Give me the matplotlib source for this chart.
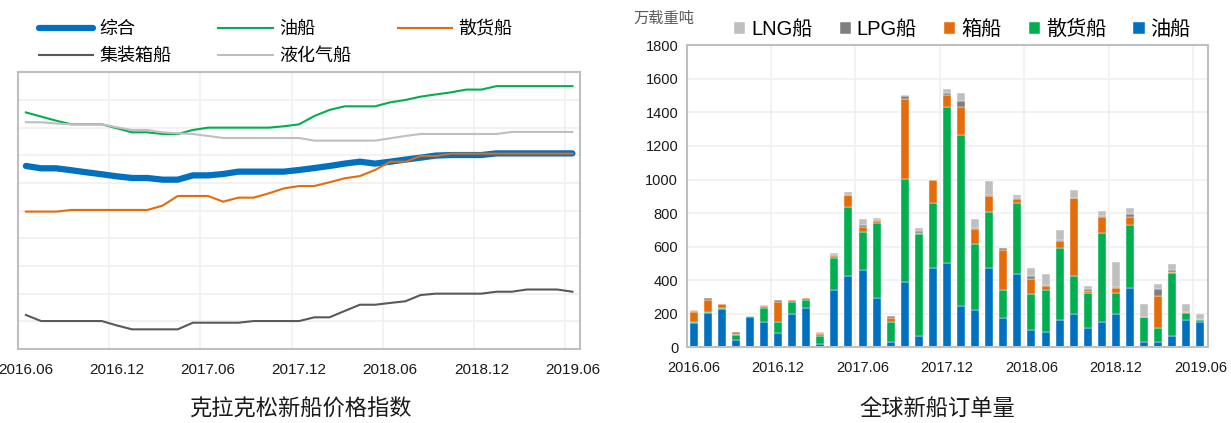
import numpy as np
import matplotlib.pyplot as plt

plt.rcParams['font.family'] = ['Liberation Sans', 'Noto Sans CJK SC']

# ---- data: monthly, 2016.06 - 2019.06 ----
tick_labels = ['2016.06', '2016.12', '2017.06', '2017.12', '2018.06', '2018.12', '2019.06']

# Clarkson newbuilding price indices (left chart)
idx_composite = [132.3, 130.6, 130.6, 129.2, 127.7, 126.3, 124.8, 123.6, 123.6, 122.4,
                 122.4, 125.5, 125.5, 126.5, 128.2, 128.2, 128.2, 128.2, 129.4, 130.8,
                 132.3, 134.0, 135.4, 134.0, 135.4, 136.9, 138.3, 139.8, 140.2, 140.2,
                 140.2, 141.4, 141.4, 141.4, 141.4, 141.4, 141.4]
idx_tanker = [171.0, 168.0, 165.0, 162.4, 162.4, 162.4, 159.5, 156.6, 156.6, 155.4,
              155.4, 158.3, 160.0, 160.0, 160.0, 160.0, 160.0, 161.0, 162.4, 168.4,
              172.8, 175.4, 175.4, 175.4, 178.3, 180.0, 182.4, 184.0, 185.5, 187.5,
              187.5, 190.0, 190.0, 190.0, 190.0, 190.0, 190.0]
idx_bulk = [99.3, 99.3, 99.3, 100.5, 100.5, 100.5, 100.5, 100.5, 100.5, 103.6,
            110.6, 110.6, 110.6, 106.5, 109.4, 109.4, 112.5, 116.1, 117.8, 117.8,
            120.5, 123.4, 125.0, 129.4, 135.4, 135.4, 139.5, 139.5, 141.2, 141.2,
            141.2, 141.2, 141.2, 141.2, 141.2, 141.2, 141.2]
idx_container = [24.6, 20.2, 20.2, 20.2, 20.2, 20.2, 17.0, 14.2, 14.2, 14.2,
                 14.2, 19.0, 19.0, 19.0, 19.0, 20.2, 20.2, 20.2, 20.2, 22.9,
                 22.9, 27.5, 32.0, 32.0, 33.3, 34.5, 39.0, 40.0, 40.0, 40.0,
                 40.0, 41.4, 41.4, 43.0, 43.0, 43.0, 41.4]
idx_gas = [163.9, 163.9, 163.0, 162.4, 162.4, 162.4, 160.2, 158.3, 158.3, 156.6,
           155.9, 155.4, 154.0, 152.5, 152.5, 152.5, 152.5, 152.5, 152.5, 150.6,
           150.6, 150.6, 150.6, 150.6, 152.3, 154.0, 155.4, 155.4, 155.4, 155.4,
           155.4, 155.4, 156.9, 156.9, 156.9, 156.9, 156.9]

# global new orders, 万载重吨 (right chart)
ord_oil = [143, 207, 226, 43, 178, 150, 83, 197, 234, 22, 339, 425, 458, 292, 32, 387, 70, 472, 504,
           244, 224, 472, 177, 435, 101, 91, 165, 198, 117, 151, 198, 353, 32, 32, 70, 165, 149]
ord_bulk = [9, 2, 10, 28, 10, 86, 67, 73, 48, 48, 191, 413, 227, 450, 117, 619, 603, 390, 929,
            1022, 389, 332, 164, 428, 218, 250, 424, 229, 204, 533, 124, 377, 147, 85, 375, 41, 14]
ord_box = [56, 72, 20, 10, 0, 10, 121, 10, 10, 10, 14, 69, 34, 10, 26, 473, 10, 133, 70,
           167, 94, 95, 239, 20, 88, 22, 44, 460, 14, 93, 30, 48, 0, 187, 6, 4, 3]
ord_lpg = [10, 10, 0, 8, 0, 2, 8, 0, 0, 8, 8, 3, 10, 6, 10, 21, 10, 0, 11,
           34, 5, 8, 9, 6, 17, 6, 6, 3, 10, 6, 6, 14, 0, 45, 8, 0, 0]
ord_lng = [4, 2, 4, 2, 0, 2, 3, 3, 3, 2, 12, 13, 35, 10, 0, 5, 16, 0, 24,
           51, 54, 87, 0, 20, 50, 67, 60, 47, 20, 31, 149, 36, 77, 28, 36, 46, 30]

BLUE = '#0070C0'
GREEN = '#00B050'
ORANGE = '#E46C0A'
DGRAY = '#595959'
LGRAY = '#BFBFBF'
MGRAY = '#7F7F7F'
FRAME = '#BFBFBF'
GRID = '#F0F0F0'
TXT = '#1A1A1A'

fig = plt.figure(figsize=(12.31, 4.23), dpi=100)

x = np.arange(len(idx_composite))
tick_pos = x[::6]
bounds = tick_pos[1:] - 0.5

# ---- left: price index lines ----
ax1 = fig.add_axes([18.3 / 1231, 1 - 349 / 423, (580 - 18.3) / 1231, (349 - 72.3) / 423])
ax1.set_xlim(-0.5, 36.5)
ax1.set_ylim(0, 200)
ax1.set_yticks(np.arange(0, 201, 20))
ax1.yaxis.grid(True, color=GRID, lw=1.2)
for b in bounds:
    ax1.axvline(b, color=GRID, lw=1.2, zorder=0)
ax1.set_axisbelow(True)

l_comp, = ax1.plot(x, idx_composite, color=BLUE, lw=4.5, solid_capstyle='round')
l_tank, = ax1.plot(x, idx_tanker, color=GREEN, lw=1.5)
l_bulk, = ax1.plot(x, idx_bulk, color=ORANGE, lw=1.5)
l_cont, = ax1.plot(x, idx_container, color=DGRAY, lw=1.5)
l_gas, = ax1.plot(x, idx_gas, color=LGRAY, lw=1.5)

ax1.set_xticks(tick_pos)
ax1.set_xticklabels(tick_labels, fontsize=11, color=TXT)
ax1.tick_params(axis='x', length=0, pad=10)
ax1.tick_params(axis='y', left=False, labelleft=False)
for s in ax1.spines.values():
    s.set_color(FRAME)
    s.set_linewidth(1.5)

fig.legend([l_comp, l_cont, l_tank, l_gas, l_bulk],
           ['综合', '集装箱船', '油船', '液化气船', '散货船'],
           ncol=3, loc='upper left', bbox_to_anchor=(39 / 1231, 1 - 21 / 423),
           frameon=False, fontsize=13, handlelength=3.0, handletextpad=0.35,
           columnspacing=2.6, labelspacing=0.55, borderpad=0, borderaxespad=0)

fig.text(300 / 1231, 1 - 409 / 423, '克拉克松新船价格指数', ha='center', va='center',
         fontsize=16, color=TXT, family=['Noto Sans CJK SC'])

# ---- right: stacked order bars ----
ax2 = fig.add_axes([686.5 / 1231, 1 - 347.3 / 423, (1207.5 - 686.5) / 1231, (347.3 - 45.3) / 423])
ax2.set_xlim(-0.5, 36.5)
ax2.set_ylim(0, 1800)
ax2.set_yticks(np.arange(0, 1801, 200))
ax2.yaxis.grid(True, color=GRID, lw=1.2)
for b in bounds:
    ax2.axvline(b, color=GRID, lw=1.2, zorder=0)
ax2.set_axisbelow(True)

w = 0.57
bottom = np.zeros(len(ord_oil))
bars = []
for vals, col, name in [(ord_oil, BLUE, '油船'), (ord_bulk, GREEN, '散货船'),
                        (ord_box, ORANGE, '箱船'), (ord_lpg, MGRAY, 'LPG船'),
                        (ord_lng, LGRAY, 'LNG船')]:
    b = ax2.bar(x, vals, width=w, bottom=bottom, color=col, edgecolor='white',
                linewidth=0.3, label=name)
    bars.append(b)
    bottom += np.array(vals)

ax2.set_xticks(tick_pos)
ax2.set_xticklabels(tick_labels, fontsize=10.5, color=TXT)
ax2.tick_params(axis='x', length=0, pad=10)
ax2.tick_params(axis='y', length=0, pad=6, labelsize=10.5, labelcolor=TXT)
for s in ax2.spines.values():
    s.set_color(FRAME)
    s.set_linewidth(1.5)

fig.legend(bars[::-1], ['LNG船', 'LPG船', '箱船', '散货船', '油船'],
           ncol=5, loc='upper left', bbox_to_anchor=(734 / 1231, 1 - 20 / 423),
           frameon=False, fontsize=14.5, handlelength=0.55, handleheight=0.55,
           handletextpad=0.3, columnspacing=1.35, borderpad=0, borderaxespad=0)

fig.text(633 / 1231, 1 - 18 / 423, '万载重吨', ha='left', va='center',
         fontsize=11, color='#595959', family=['Noto Sans CJK SC'])
fig.text(937 / 1231, 1 - 409 / 423, '全球新船订单量', ha='center', va='center',
         fontsize=16, color=TXT, family=['Noto Sans CJK SC'])

fig.savefig('out.png', dpi=100)
plt.close(fig)
